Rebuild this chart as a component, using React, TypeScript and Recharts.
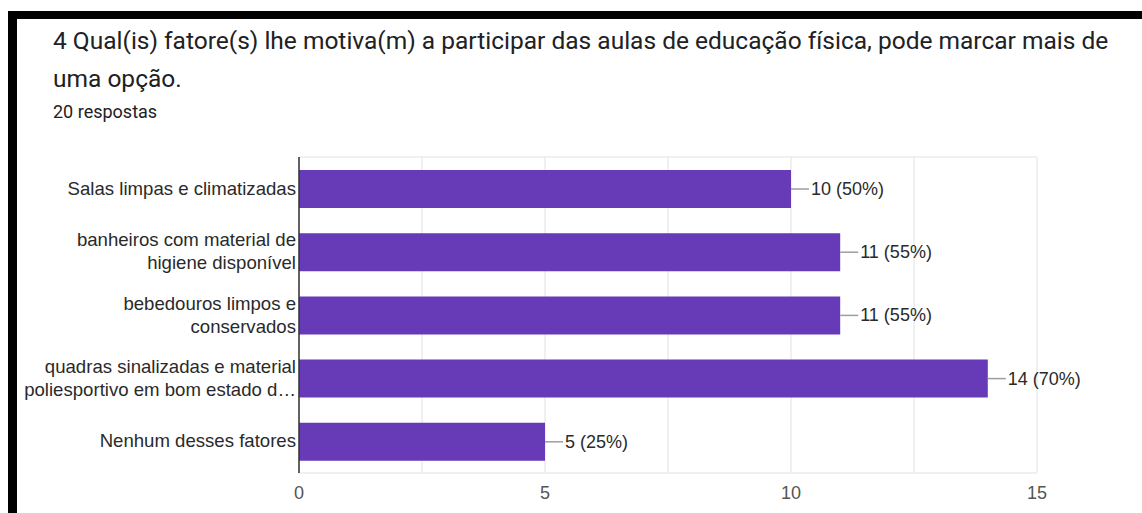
import { BarChart, Bar, XAxis, YAxis, CartesianGrid, LabelList } from "recharts";

const categories = [
  "Salas limpas e climatizadas",
  "banheiros com material de higiene disponível",
  "bebedouros limpos e conservados",
  "quadras sinalizadas e material poliesportivo em bom estado d…",
  "Nenhum desses fatores",
];

const tickLines = [
  ["Salas limpas e climatizadas"],
  ["banheiros com material de", "higiene disponível"],
  ["bebedouros limpos e", "conservados"],
  ["quadras sinalizadas e material", "poliesportivo em bom estado d…"],
  ["Nenhum desses fatores"],
];

const counts = [10, 11, 11, 14, 5];
const percents = ["50%", "55%", "55%", "70%", "25%"];
const xTicks = [0, 2.5, 5, 7.5, 10, 12.5, 15];

const data = categories.map((name, i) => ({
  name,
  count: counts[i],
  label: `${counts[i]} (${percents[i]})`,
  lines: tickLines[i],
}));

const FONT = '"Liberation Sans", Arial, sans-serif';

// eslint-disable-next-line @typescript-eslint/no-explicit-any
function CategoryTick(props: any) {
  const { x, y, index } = props;
  const lines = tickLines[index] || [];
  return (
    <text x={x} y={y} textAnchor="end" fontSize={18.6} fontFamily={FONT} fill="#2a2a2a">
      {lines.map((ln, i) => (
        <tspan key={i} x={x} y={y + (i - (lines.length - 1) / 2) * 23 + 6}>
          {ln}
        </tspan>
      ))}
    </text>
  );
}

// eslint-disable-next-line @typescript-eslint/no-explicit-any
function ValueLabel(props: any) {
  const { x, y, width, height, index } = props;
  const cy = y + height / 2;
  const end = x + width;
  return (
    <g>
      <line x1={end} y1={cy} x2={end + 18} y2={cy} stroke="#9e9e9e" strokeWidth={1.5} />
      <text x={end + 20} y={cy + 6} fontSize={18} fontFamily={FONT} fill="#2a2a2a">
        {data[index].label}
      </text>
    </g>
  );
}

const titleStyle = {
  position: "absolute" as const,
  left: 53,
  fontFamily: "Roboto, sans-serif",
  color: "#202124",
  whiteSpace: "nowrap" as const,
};

export default function App() {
  return (
    <div
      style={{
        position: "absolute",
        left: 0,
        top: 0,
        width: 1142,
        height: 513,
        background: "#fff",
        overflow: "hidden",
      }}
    >
      <div style={{ position: "absolute", left: 0, top: 0 }}>
        <BarChart
          width={1142}
          height={513}
          data={data}
          layout="vertical"
          margin={{ top: 157, right: 105, bottom: 10, left: 0 }}
        >
          <CartesianGrid
            stroke="#ebebeb"
            strokeWidth={1.5}
            horizontal={true}
            // eslint-disable-next-line @typescript-eslint/no-explicit-any
            horizontalCoordinatesGenerator={({ offset }: any) => [offset.top, offset.top + offset.height]}
          />
          <XAxis
            type="number"
            domain={[0, 15]}
            ticks={xTicks}
            interval={0}
            tickFormatter={(v: number) => (v % 5 === 0 ? String(v) : "")}
            axisLine={false}
            tickLine={false}
            tickSize={0}
            tickMargin={13}
            height={30}
            tick={{ fontSize: 18, fontFamily: FONT, fill: "#555" }}
          />
          <YAxis
            type="category"
            dataKey="name"
            width={299}
            axisLine={{ stroke: "#333", strokeWidth: 1.5 }}
            tickLine={false}
            tickSize={0}
            tickMargin={3}
            interval={0}
            tick={<CategoryTick />}
          />
          <Bar dataKey="count" fill="#673ab7" barSize={38} isAnimationActive={false}>
            <LabelList dataKey="count" content={<ValueLabel />} />
          </Bar>
        </BarChart>
      </div>

      <div style={{ ...titleStyle, top: 27, fontSize: 24.5, lineHeight: "28px" }}>
        4 Qual(is) fatore(s) lhe motiva(m) a participar das aulas de educação física, pode marcar mais de
      </div>
      <div style={{ ...titleStyle, top: 65, fontSize: 24.5, lineHeight: "28px" }}>uma opção.</div>
      <div style={{ ...titleStyle, top: 101, fontSize: 18, lineHeight: "22px" }}>20 respostas</div>

      <div style={{ position: "absolute", left: 8, top: 11, width: 1134, height: 8, background: "#000" }} />
      <div style={{ position: "absolute", left: 8, top: 11, width: 9, height: 502, background: "#000" }} />
    </div>
  );
}
